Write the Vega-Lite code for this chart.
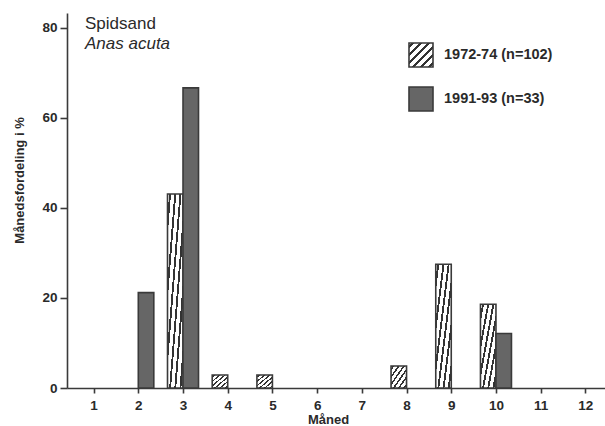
{
  "$schema": "https://vega.github.io/schema/vega-lite/v6.json",
  "width": 538,
  "height": 375,
  "autosize": {"type": "none"},
  "padding": {"left": 67, "top": 13, "right": 0, "bottom": 38},
  "background": "#ffffff",
  "config": {
    "view": {"stroke": null},
    "font": "Liberation Sans",
    "axis": {
      "domainColor": "#3a3a3a",
      "domainWidth": 1.6,
      "tickColor": "#3a3a3a",
      "tickWidth": 1.6,
      "labelFont": "Liberation Sans",
      "labelFontWeight": "bold",
      "labelFontSize": 13.5,
      "labelColor": "#2a2a2a",
      "titleFont": "Liberation Sans",
      "titleFontWeight": "bold",
      "titleColor": "#2a2a2a",
      "grid": false
    }
  },
  "title": {
    "text": "Spidsand",
    "subtitle": "Anas acuta",
    "anchor": "start",
    "frame": "group",
    "orient": "top",
    "offset": -40,
    "dx": 18,
    "font": "Liberation Sans",
    "fontSize": 17,
    "fontWeight": "normal",
    "color": "#2a2a2a",
    "subtitleFont": "Liberation Sans",
    "subtitleFontSize": 17,
    "subtitleFontStyle": "italic",
    "subtitleColor": "#2a2a2a",
    "subtitlePadding": 3
  },
  "data": {
    "values": [
      {"month": 3, "period": "1972-74 (n=102)", "pct": 43.1},
      {"month": 4, "period": "1972-74 (n=102)", "pct": 2.9},
      {"month": 5, "period": "1972-74 (n=102)", "pct": 2.9},
      {"month": 8, "period": "1972-74 (n=102)", "pct": 4.9},
      {"month": 9, "period": "1972-74 (n=102)", "pct": 27.5},
      {"month": 10, "period": "1972-74 (n=102)", "pct": 18.6},
      {"month": 2, "period": "1991-93 (n=33)", "pct": 21.2},
      {"month": 3, "period": "1991-93 (n=33)", "pct": 66.7},
      {"month": 10, "period": "1991-93 (n=33)", "pct": 12.1}
    ]
  },
  "encoding": {
    "x": {
      "field": "month",
      "type": "quantitative",
      "title": "Måned",
      "scale": {"domain": [0.517, 12.327], "nice": false, "zero": false},
      "axis": {
        "values": [1, 2, 3, 4, 5, 6, 7, 8, 9, 10, 11, 12],
        "format": "d",
        "tickSize": 5,
        "labelPadding": 5,
        "labelFlush": false,
        "titleFontSize": 13,
        "titlePadding": 2,
        "titleX": 261
      }
    },
    "y": {
      "field": "pct",
      "type": "quantitative",
      "title": "Månedsfordeling i %",
      "scale": {"domain": [0, 83.33], "nice": false},
      "axis": {
        "values": [0, 20, 40, 60, 80],
        "tickSize": 7,
        "labelPadding": 3,
        "titleFontSize": 13,
        "titleX": -48,
        "titleY": 167,
        "titleBaseline": "middle",
        "titleAngle": -90
      }
    },
    "color": {
      "field": "period",
      "type": "nominal",
      "scale": {
        "domain": ["1972-74 (n=102)", "1991-93 (n=33)"],
        "range": [
          {"expr": "{gradient:'linear',x1:0,y1:0,x2:1,y2:1,stops:[{offset:0,color:'#ffffff'},{offset:0.053,color:'#ffffff'},{offset:0.053,color:'#333333'},{offset:0.113,color:'#333333'},{offset:0.113,color:'#ffffff'},{offset:0.22,color:'#ffffff'},{offset:0.22,color:'#333333'},{offset:0.28,color:'#333333'},{offset:0.28,color:'#ffffff'},{offset:0.387,color:'#ffffff'},{offset:0.387,color:'#333333'},{offset:0.447,color:'#333333'},{offset:0.447,color:'#ffffff'},{offset:0.553,color:'#ffffff'},{offset:0.553,color:'#333333'},{offset:0.613,color:'#333333'},{offset:0.613,color:'#ffffff'},{offset:0.72,color:'#ffffff'},{offset:0.72,color:'#333333'},{offset:0.78,color:'#333333'},{offset:0.78,color:'#ffffff'},{offset:0.887,color:'#ffffff'},{offset:0.887,color:'#333333'},{offset:0.947,color:'#333333'},{offset:0.947,color:'#ffffff'},{offset:1,color:'#ffffff'}]}"},
          "#666666"
        ]
      },
      "legend": {
        "title": null,
        "orient": "none",
        "legendX": 341,
        "legendY": 29,
        "padding": 0,
        "symbolType": "square",
        "symbolSize": 576,
        "symbolStrokeColor": "#3a3a3a",
        "symbolStrokeWidth": 1.6,
        "symbolOpacity": 1,
        "labelFont": "Liberation Sans",
        "labelFontSize": 14.5,
        "labelFontWeight": "bold",
        "labelColor": "#2a2a2a",
        "labelOffset": 10,
        "rowPadding": 12
      }
    }
  },
  "layer": [
    {
      "transform": [{"filter": "datum.period === '1972-74 (n=102)'"}],
      "mark": {"type": "bar", "width": 15.5, "xOffset": -7.75, "stroke": "#3a3a3a", "strokeWidth": 1.6, "opacity": 1}
    },
    {
      "transform": [{"filter": "datum.period === '1991-93 (n=33)'"}],
      "mark": {"type": "bar", "width": 15.5, "xOffset": 7.75, "stroke": "#3a3a3a", "strokeWidth": 1.6, "opacity": 1}
    }
  ]
}
